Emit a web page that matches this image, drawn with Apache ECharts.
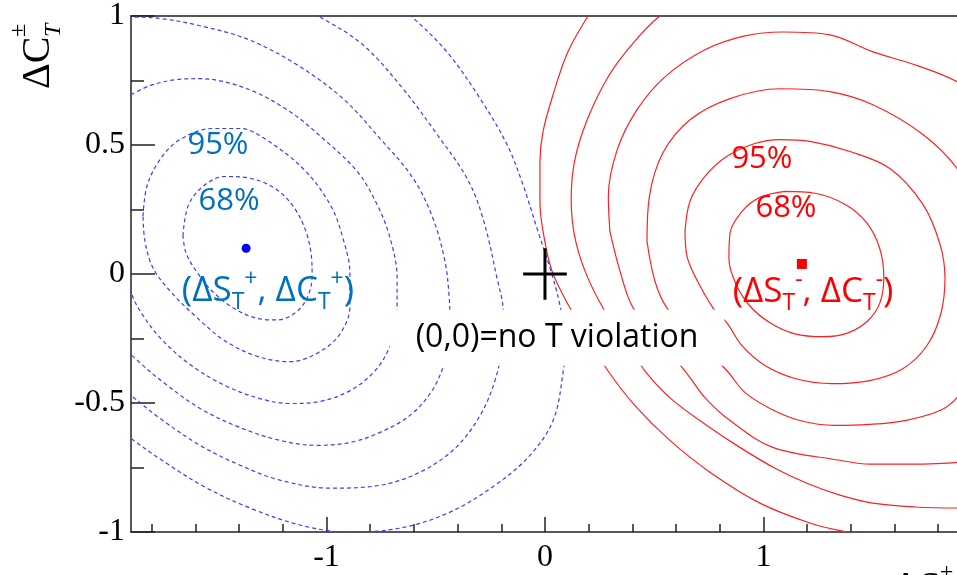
<!DOCTYPE html>
<html><head><meta charset="utf-8">
<script src="https://cdn.jsdelivr.net/npm/echarts@6/dist/echarts.min.js"></script>
<style>html,body{margin:0;padding:0;background:#fff}#c{width:957px;height:575px}</style>
</head><body><div id="c"></div>
<script>
// ---- axes ----
const xRange = [-1.895, 1.886];
const yRange = [-1, 1];
const xMajorTicks = [-1, 0, 1];
const xMinorTicks = [-1.8,-1.6,-1.4,-1.2,-0.8,-0.6,-0.4,-0.2,0.2,0.4,0.6,0.8,1.2,1.4,1.6,1.8];

// ---- blue (dashed) contours, (ΔS_T+, ΔC_T+) ----
const blue1 = [[-1.657,0.147],[-1.634,0.263],[-1.565,0.340],[-1.465,0.378],[-1.350,0.371],[-1.236,0.332],[-1.153,0.263],[-1.098,0.174],[-1.071,0.081],[-1.066,-0.008],[-1.089,-0.093],[-1.144,-0.151],[-1.227,-0.178],[-1.327,-0.170],[-1.428,-0.131],[-1.524,-0.066],[-1.597,0.012],[-1.643,0.081],[-1.657,0.147]];
const blue2 = [[-1.840,0.224],[-1.822,0.340],[-1.762,0.444],[-1.671,0.521],[-1.520,0.564],[-1.396,0.564],[-1.291,0.529],[-1.108,0.409],[-0.984,0.270],[-0.925,0.139],[-0.893,0],[-0.893,-0.124],[-0.938,-0.232],[-1.039,-0.305],[-1.167,-0.340],[-1.314,-0.320],[-1.465,-0.259],[-1.602,-0.162],[-1.716,-0.066],[-1.794,0.023],[-1.831,0.127],[-1.840,0.224]];
const blue3 = [[-1.895,0.695],[-1.808,0.730],[-1.693,0.753],[-1.579,0.757],[-1.364,0.718],[-1.167,0.629],[-1.016,0.525],[-0.860,0.398],[-0.769,0.270],[-0.709,0.139],[-0.677,-0.015],[-0.677,-0.162],[-0.709,-0.278],[-0.778,-0.375],[-0.892,-0.452],[-1.030,-0.494],[-1.167,-0.502],[-1.304,-0.483],[-1.465,-0.432],[-1.625,-0.351],[-1.762,-0.247],[-1.854,-0.143],[-1.895,-0.073],[-1.945,0.031],[-1.982,0.205],[-1.975,0.450],[-1.945,0.620],[-1.895,0.695]];
const blue4 = [[-2.037,0.977],[-1.854,0.996],[-1.739,0.988],[-1.593,0.965],[-1.364,0.911],[-1.135,0.811],[-0.925,0.680],[-0.755,0.525],[-0.604,0.371],[-0.513,0.216],[-0.458,0.050],[-0.439,-0.085],[-0.435,-0.201],[-0.458,-0.336],[-0.517,-0.452],[-0.618,-0.548],[-0.755,-0.614],[-0.892,-0.653],[-1.043,-0.664],[-1.213,-0.645],[-1.396,-0.595],[-1.579,-0.521],[-1.739,-0.425],[-1.854,-0.344],[-1.945,-0.259],[-2.082,0.089],[-2.105,0.591],[-2.037,0.977]];
const blue5 = [[-1.991,-0.413],[-1.895,-0.471],[-1.762,-0.560],[-1.579,-0.664],[-1.396,-0.741],[-1.213,-0.799],[-0.984,-0.830],[-0.755,-0.819],[-0.572,-0.768],[-0.412,-0.676],[-0.297,-0.548],[-0.229,-0.413],[-0.197,-0.278],[-0.192,-0.143],[-0.220,-0.015],[-0.284,0.216],[-0.357,0.371],[-0.494,0.541],[-0.650,0.718],[-0.833,0.888],[-1.030,0.996],[-1.167,1.054]];
const blue6 = [[-1.991,-0.568],[-1.895,-0.637],[-1.739,-0.730],[-1.556,-0.826],[-1.350,-0.907],[-1.121,-0.973],[-0.906,-1.000],[-0.664,-0.985],[-0.435,-0.923],[-0.229,-0.819],[-0.069,-0.703],[0.037,-0.568],[0.082,-0.386],[0.092,-0.259],[0.069,-0.124],[0.027,0.012],[-0.037,0.178],[-0.101,0.347],[-0.174,0.502],[-0.297,0.680],[-0.449,0.861],[-0.609,0.996],[-0.709,1.054]];

// ---- red (solid) contours, (ΔS_T-, ΔC_T-) ----
const red1 = [[1.098,0.320],[1.236,0.313],[1.373,0.270],[1.474,0.197],[1.533,0.097],[1.551,-0.015],[1.533,-0.112],[1.478,-0.181],[1.387,-0.228],[1.272,-0.243],[1.144,-0.232],[1.030,-0.189],[0.938,-0.124],[0.874,-0.039],[0.842,0.058],[0.847,0.158],[0.902,0.243],[0.984,0.297],[1.098,0.320]];
const red2 = [[0.641,0.166],[0.664,0.282],[0.732,0.378],[0.833,0.456],[0.961,0.506],[1.076,0.521],[1.213,0.514],[1.396,0.475],[1.579,0.409],[1.730,0.270],[1.808,0.116],[1.831,-0.015],[1.812,-0.154],[1.748,-0.278],[1.638,-0.367],[1.487,-0.413],[1.314,-0.425],[1.144,-0.405],[1.007,-0.355],[0.902,-0.278],[0.833,-0.189],[0.769,-0.131],[0.686,-0.008],[0.650,0.069],[0.641,0.166]];
const red3 = [[0.467,0.127],[0.478,0.301],[0.540,0.470],[0.664,0.598],[0.847,0.680],[1.076,0.718],[1.304,0.707],[1.501,0.656],[1.730,0.541],[1.886,0.409],[2.014,0.205],[2.037,-0.104],[1.968,-0.375],[1.886,-0.479],[1.808,-0.529],[1.648,-0.568],[1.487,-0.583],[1.327,-0.587],[1.167,-0.568],[1.030,-0.521],[0.915,-0.459],[0.833,-0.375],[0.686,-0.251],[0.558,-0.131],[0.503,-0.027],[0.467,0.127]];
const red4 = [[0.297,0.166],[0.290,0.300],[0.330,0.480],[0.420,0.635],[0.549,0.764],[0.732,0.869],[0.915,0.923],[1.089,0.938],[1.304,0.927],[1.501,0.861],[1.693,0.811],[1.886,0.745],[2.082,0.629],[2.265,0.282],[2.311,-0.104],[2.220,-0.490],[2.037,-0.664],[1.886,-0.730],[1.657,-0.737],[1.487,-0.737],[1.350,-0.722],[1.043,-0.672],[0.847,-0.568],[0.732,-0.479],[0.650,-0.386],[0.526,-0.259],[0.403,-0.131],[0.343,0.012],[0.297,0.166]];
const red5 = [[0.801,1.093],[0.664,1.054],[0.526,1.000],[0.389,0.880],[0.284,0.757],[0.190,0.591],[0.135,0.436],[0.120,0.290],[0.135,0.150],[0.183,0.012],[0.265,-0.131],[0.366,-0.259],[0.467,-0.386],[0.586,-0.490],[0.741,-0.587],[0.892,-0.672],[1.053,-0.753],[1.199,-0.811],[1.350,-0.857],[1.501,-0.888],[1.693,-0.903],[1.886,-0.907],[2.082,-0.896]];
const red6 = [[0.297,1.131],[0.197,1.000],[0.105,0.861],[0.037,0.695],[-0.009,0.552],[-0.023,0.436],[-0.023,0.282],[-0.009,0.166],[0.032,0.012],[0.114,-0.131],[0.206,-0.259],[0.288,-0.375],[0.412,-0.510],[0.572,-0.645],[0.755,-0.768],[0.984,-0.888],[1.213,-0.965],[1.396,-1.004],[1.625,-1.050],[1.899,-1.077]];

const blueContours = [blue1, blue2, blue3, blue4, blue5, blue6];
const redContours = [red1, red2, red3, red4, red5, red6];

// ---- best-fit points and origin ----
const blueCenter = [-1.368, 0.100];
const redCenter = [1.176, 0.039];
const crossH = [[-0.1, 0], [0.1, 0]];
const crossV = [[0, -0.1], [0, 0.1]];

// ---- annotation texts (anchored in data coordinates) ----
const blueNotes = [
  {pos: [-1.497, 0.498], text: '95%'},
  {pos: [-1.446, 0.282], text: '68%'},
  {pos: [-1.268, -0.066], text: '(ΔS{s|T}{p|+}, ΔC{s|T}{p|+})'}
];
const redNotes = [
  {pos: [0.993, 0.444], text: '95%'},
  {pos: [1.103, 0.255], text: '68%'},
  {pos: [1.227, -0.069], text: '(ΔS{s|T}{p|-}, ΔC{s|T}{p|-})'}
];
const originNote = {pos: [0.055, -0.247], text: '(0,0)=no T violation'};

const BLUE_LINE = '#3c3cff', RED_LINE = '#ff2020';
const BLUE_TXT = '#0070C0', RED_TXT = '#FF0000';
const LABEL_FONT = 'Open Sans';
const AXIS_FONT = 'Liberation Serif';

function noteRich(color) {
  const base = {fontFamily: LABEL_FONT, color: color, textBorderWidth: 0, lineHeight: 22, opacity: 1};
  return {
    s: Object.assign({fontSize: 23, verticalAlign: 'bottom'}, base),
    p: Object.assign({fontSize: 23, verticalAlign: 'top'}, base)
  };
}
function noteItem(n, color, big) {
  return {
    value: n.pos,
    label: {
      show: true, position: 'inside', formatter: n.text, opacity: 1,
      fontFamily: LABEL_FONT, fontSize: big ? 35 : 31, color: color, lineHeight: 46,
      textBorderWidth: 0, textBorderColor: 'transparent',
      align: 'center', verticalAlign: 'middle', rich: noteRich(color)
    }
  };
}

const series = [];
redContours.forEach(c => series.push({
  type: 'line', data: c, smooth: 0.35, showSymbol: false, silent: true, clip: true, z: 2,
  lineStyle: {color: RED_LINE, width: 1.2, type: 'solid'}
}));
blueContours.forEach(c => series.push({
  type: 'line', data: c, smooth: 0.35, showSymbol: false, silent: true, clip: true, z: 3,
  lineStyle: {color: BLUE_LINE, width: 1.2, type: [4, 3]}
}));
series.push({type: 'line', data: crossH, showSymbol: false, silent: true, z: 5, lineStyle: {color: '#000', width: 3}});
series.push({type: 'line', data: crossV, showSymbol: false, silent: true, z: 5, lineStyle: {color: '#000', width: 3}});
series.push({type: 'scatter', data: [blueCenter], symbol: 'circle', symbolSize: 9, z: 6, itemStyle: {color: '#0000ff', opacity: 1}, silent: true});
series.push({type: 'scatter', data: [redCenter], symbol: 'rect', symbolSize: 10, z: 6, itemStyle: {color: '#ff0000', opacity: 1}, silent: true});
series.push({
  type: 'scatter', symbolSize: 0, silent: true, z: 10,
  itemStyle: {color: 'transparent', opacity: 1},
  data: blueNotes.map((n, i) => noteItem(n, BLUE_TXT, i === 2))
    .concat(redNotes.map((n, i) => noteItem(n, RED_TXT, i === 2)))
    .concat([{
      value: originNote.pos,
      label: {show: true, position: 'inside', formatter: originNote.text, fontFamily: LABEL_FONT,
        fontSize: 32, color: '#000', align: 'center', verticalAlign: 'middle', opacity: 1,
        textBorderWidth: 0, textBorderColor: 'transparent',
        backgroundColor: '#fff', padding: [12, 26]}
    }])
});

const tickStyle = {color: '#222', width: 1.5};
const chart = echarts.init(document.getElementById('c'));
chart.setOption({
  animation: false,
  backgroundColor: '#fff',
  grid: {left: 131, right: 0, top: 14, bottom: 43},
  xAxis: [
    {type: 'value', min: xRange[0], max: xRange[1], position: 'bottom',
      axisLine: {show: true, onZero: false, lineStyle: tickStyle},
      axisTick: {show: true, inside: true, length: 15, customValues: xMajorTicks, lineStyle: tickStyle},
      axisLabel: {show: true, customValues: xMajorTicks, fontFamily: AXIS_FONT, fontSize: 32, color: '#000', margin: 10,
        formatter: v => String(v)},
      splitLine: {show: false}},
    {type: 'value', min: xRange[0], max: xRange[1], position: 'bottom',
      axisLine: {show: false, onZero: false},
      axisTick: {show: true, inside: true, length: 8, customValues: xMinorTicks, lineStyle: tickStyle},
      axisLabel: {show: false}, splitLine: {show: false}},
    {type: 'value', min: xRange[0], max: xRange[1], position: 'top',
      axisLine: {show: true, onZero: false, lineStyle: {color: '#555', width: 2}},
      axisTick: {show: false}, axisLabel: {show: false}, splitLine: {show: false}}
  ],
  yAxis: {
    type: 'value', min: yRange[0], max: yRange[1], interval: 0.5,
    axisLine: {show: true, onZero: false, lineStyle: tickStyle},
    axisTick: {show: true, inside: true, length: 24, lineStyle: tickStyle},
    minorTick: {show: true, splitNumber: 2, length: 13, lineStyle: tickStyle},
    axisLabel: {fontFamily: AXIS_FONT, fontSize: 32, color: '#000', margin: 6, formatter: v => String(v)},
    splitLine: {show: false}, minorSplitLine: {show: false}
  },
  graphic: [
    {type: 'group', x: 38, y: 89, rotation: Math.PI / 2, children: [
      {type: 'text', x: 0, y: 0, style: {text: 'ΔC', font: '40px "Liberation Serif"', fill: '#000', textAlign: 'left', textVerticalAlign: 'middle'}},
      {type: 'text', x: 52, y: -19, style: {text: '±', font: '24px "Liberation Serif"', fill: '#000', textAlign: 'left', textVerticalAlign: 'middle'}},
      {type: 'text', x: 52, y: 16, style: {text: 'T', font: 'italic 24px "Liberation Serif"', fill: '#000', textAlign: 'left', textVerticalAlign: 'middle'}}
    ]},
    {type: 'text', x: 893, y: 568, style: {text: 'ΔS', font: '40px "Liberation Serif"', fill: '#000', textAlign: 'left', textVerticalAlign: 'top'}},
    {type: 'text', x: 940, y: 561, style: {text: '±', font: '24px "Liberation Serif"', fill: '#000', textAlign: 'left', textVerticalAlign: 'top'}}
  ],
  series: series
});
</script>
</body></html>
